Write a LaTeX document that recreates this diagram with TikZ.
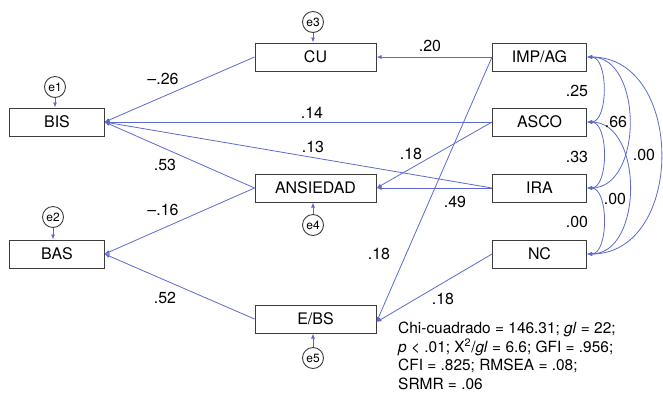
\documentclass[tikz,border=0pt]{standalone}
\usepackage{fontspec}
\setmainfont{TeX Gyre Heros}
\usetikzlibrary{arrows.meta}
\definecolor{pathblue}{RGB}{92,106,206}
\definecolor{boxgray}{RGB}{60,60,60}
\begin{document}
\begin{tikzpicture}[x=1bp,y=-1bp,
  var/.style={draw=boxgray,line width=1bp,minimum height=28bp,inner sep=0pt,font=\fontsize{16}{18}\selectfont},
  small/.style={var,minimum width=94bp},
  wide/.style={var,minimum width=121bp},
  err/.style={circle,draw=boxgray,line width=0.9bp,minimum size=21bp,inner sep=0pt,font=\fontsize{12}{13}\selectfont},
  coef/.style={font=\fontsize{16}{18}\selectfont,inner sep=0pt},
  reg/.style={draw=pathblue,line width=0.8bp,-{Latex[length=5bp,width=4bp]}},
  cov/.style={draw=pathblue,line width=0.8bp,{Latex[length=5bp,width=4bp]}-{Latex[length=5bp,width=4bp]}},
]
\useasboundingbox (0,0) rectangle (663,401);

% observed variables
\node[small] (BIS) at (57,122) {BIS};
\node[small] (BAS) at (57,254) {BAS};
\node[wide] (CU) at (315.5,57) {CU};
\node[wide] (ANS) at (315.5,188) {ANSIEDAD};
\node[wide] (EBS) at (315.5,319) {E/BS};
\node[small] (IMP) at (539.5,57) {IMP/AG};
\node[small] (ASCO) at (539.5,122) {ASCO};
\node[small] (IRA) at (539.5,188) {IRA};
\node[small] (NC) at (539.5,254) {NC};

% error terms
\node[err] (e1) at (55,87) {e1};
\node[err] (e2) at (53,217) {e2};
\node[err] (e3) at (313,22) {e3};
\node[err] (e4) at (313,225) {e4};
\node[err] (e5) at (313,358) {e5};

\draw[reg] (e1) -- (e1 |- BIS.north);
\draw[reg] (e2) -- (e2 |- BAS.north);
\draw[reg] (e3) -- (e3 |- CU.north);
\draw[reg] (e4) -- (e4 |- ANS.south);
\draw[reg] (e5) -- (e5 |- EBS.south);

% regression paths
\draw[reg] (CU.west) -- (BIS.east);
\draw[reg] (ASCO.west) -- (BIS.east);
\draw[reg] (IRA.west) -- (BIS.east);
\draw[reg] (ANS.west) -- (BIS.east);
\draw[reg] (ANS.west) -- (BAS.east);
\draw[reg] (EBS.west) -- (BAS.east);
\draw[reg] (IMP.west) -- (CU.east);
\draw[reg] (ASCO.west) -- (ANS.east);
\draw[reg] (IRA.west) -- (ANS.east);
\draw[reg] (IMP.west) -- ([yshift=-3bp]EBS.east);
\draw[reg] (NC.west) -- ([yshift=-3bp]EBS.east);

% covariances
\draw[cov] (IMP.east) to[out=0,in=0,looseness=0.85] (ASCO.east);
\draw[cov] (ASCO.east) to[out=0,in=0,looseness=0.85] (IRA.east);
\draw[cov] (IRA.east) to[out=0,in=0,looseness=0.85] (NC.east);
\draw[cov] (IMP.east) to[out=0,in=0,looseness=1.1] (IRA.east);
\draw[cov] (ASCO.east) to[out=0,in=0,looseness=1.1] (NC.east);
\draw[cov] (IMP.east) to[out=0,in=0,looseness=1.28] (NC.east);

% coefficients
\node[coef] (c1) at (163,79) {–.26};
\node[coef] (c2) at (312,113) {.14};
\node[coef] (c3) at (313,147) {.13};
\node[coef] (c4) at (165,165) {.53};
\node[coef] (c5) at (163,210) {–.16};
\node[coef] (c6) at (165,298) {.52};
\node[coef] (c7) at (430,46) {.20};
\node[coef] (c8) at (411,154) {.18};
\node[coef] (c9) at (455,202) {.49};
\node[coef] (c10) at (379,254) {.18};
\node[coef] (c11) at (443,299) {.18};
\node[coef] (c12) at (577,91) {.25};
\node[coef] (c13) at (577,157) {.33};
\node[coef] (c14) at (577,222) {.00};
\node[coef] (c15) at (616,122) {.66};
\node[coef] (c16) at (644,155) {.00};
\node[coef] (c17) at (615,199) {.00};

% fit statistics
\node[anchor=north west,align=left,inner sep=0pt,font=\fontsize{15.5}{18.5}\selectfont] (fit) at (398,322)
  {Chi-cuadrado = 146.31; \textit{gl} = 22;\\
   \textit{p} < .01; X\textsuperscript{2}/\textit{gl} = 6.6; GFI = .956;\\
   CFI = .825; RMSEA = .08;\\
   SRMR = .06};
\end{tikzpicture}
\end{document}
